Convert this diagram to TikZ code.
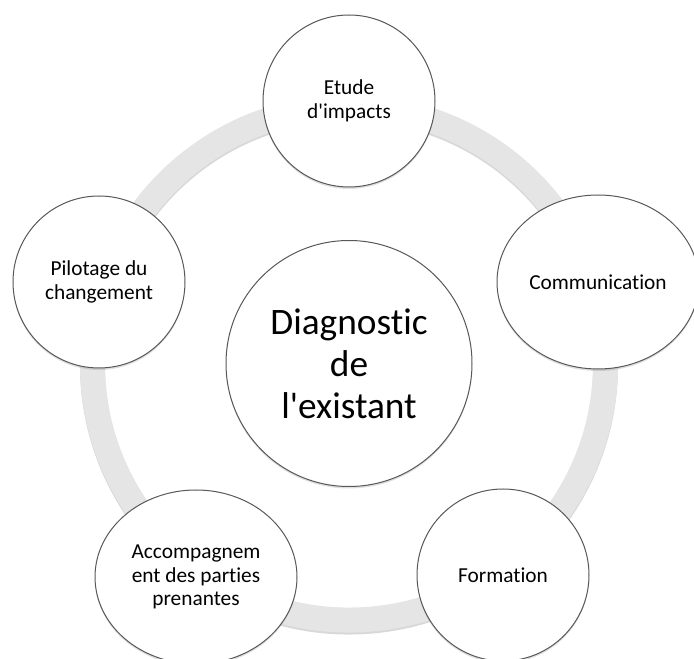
\documentclass[tikz,border=0pt]{standalone}
\usepackage{fontspec}
\newfontfamily\calib{Carlito}[Ligatures=NoCommon]
\usepackage{xcolor}
\definecolor{ringgray}{RGB}{229,229,229}
\definecolor{edgegray}{RGB}{88,88,88}
\usepackage{tikz}
\usetikzlibrary{positioning, shapes.geometric, shadows}
\tikzstyle{ring} = [
    draw=ringgray, line width=18.75pt,
]
\tikzstyle{ringshadow} = [
    draw=black!30, line width=18.75pt, opacity=.5,
]
\tikzstyle{stage} = [
    circle, draw=edgegray, line width=.75pt, fill=white,
    minimum size=129pt, inner sep=0pt, align=center,
    font=\calib\fontsize{16}{17.6}\selectfont,
    drop shadow={shadow xshift=0pt, shadow yshift=-1.5pt, opacity=.25},
]
\tikzstyle{widestage} = [
    stage, ellipse, minimum width=151.5pt, minimum height=130.5pt,
]
\tikzstyle{hub} = [
    stage, minimum size=184.5pt,
    font=\calib\fontsize{28}{31.5}\selectfont,
]

\begin{document}
\begin{tikzpicture}[x=0.75pt,y=-0.75pt]
    \useasboundingbox (0,0) rectangle (694,659);
    \clip (0,0) rectangle (694,659);
    \coordinate (mid) at (349,363.5);

    % grey cycle behind the stages
    \draw[ringshadow] ([yshift=-1.5pt]mid) circle [radius=192.4pt];
    \draw[ring] (mid) circle [radius=192.4pt];

    \node (diag) at (mid) [hub] {Diagnostic\\de\\l'existant};

    \node (etude) at (349,101) [stage] {Etude\\d'impacts};
    \node (comm) at (598,282) [widestage] {Communication};
    \node (form) at (503,575) [stage] {Formation};
    \node (accomp) at (196,577) [widestage] {Accompagnem\\ent des parties\\prenantes};
    \node (pilot) at (99,282) [stage] {Pilotage du\\changement};

\end{tikzpicture}
\end{document}
